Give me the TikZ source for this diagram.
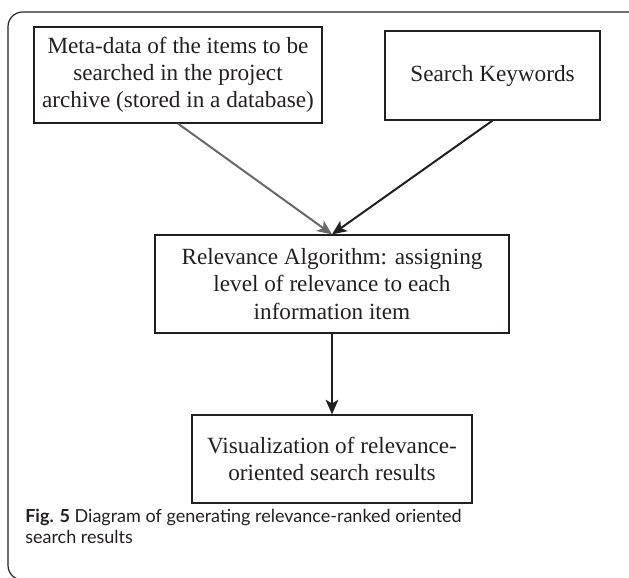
\documentclass[tikz,border=0pt]{standalone}
\usepackage{fontspec}
\setmainfont{Liberation Serif}
\newfontfamily\capfont{Lato}
\usepackage{tikz}
\usetikzlibrary{arrows.meta, positioning}
\definecolor{inkdark}{RGB}{35,31,32}
\definecolor{arrowgray}{RGB}{105,105,105}
\tikzset{block/.style={rectangle, draw=inkdark, line width=0.9pt, align=center, text=inkdark, font=\fontsize{17.4}{20.3}\selectfont, inner sep=2pt}}
\tikzset{next/.style={-{Stealth[length=11pt, width=9.5pt, inset=2.8pt]}, line width=1.5pt, draw=inkdark}}
\tikzset{frame/.style={draw=inkdark, line width=0.9pt, rounded corners=11pt}}

\begin{document}
\begin{tikzpicture}[x=0.75pt, y=-0.75pt]
  \useasboundingbox (0,0) rectangle (629,578);

  % --- outer frame ---
  \draw[frame] (660,12) -- (8,12) -- (8,580) -- (660,580);

  % --- inputs ---
  \node[block, minimum width=216pt, minimum height=72pt] (meta) at (178,75)
    {Meta-data of the items to be\\searched in the project\\archive (stored in a database)};
  \node[block, minimum width=161.25pt, minimum height=66.75pt] (keys) at (492.5,75.5)
    {Search Keywords};

  % --- algorithm and output ---
  \node[block, minimum width=265.5pt, minimum height=73.5pt] (algo) at (332,284)
    {Relevance Algorithm: assigning\\level of relevance to each\\information item};
  \node[block, minimum width=210pt, minimum height=66pt] (vis) at (332,459)
    {Visualization of relevance-\\oriented search results};

  \draw[next, draw=arrowgray, fill=arrowgray] (meta.south) -- (algo.north);
  \draw[next, fill=inkdark] (keys.south) -- (algo.north);
  \draw[next, fill=inkdark] (algo.south) -- (vis.north);

  % --- caption ---
  \node[anchor=base west, align=left, inner sep=0pt, text=inkdark,
        font=\capfont\fontsize{13.5}{15.75}\selectfont] (cap) at (25,543)
    {\textbf{Fig. 5} Diagram of generating relevance-ranked oriented\\search results};
\end{tikzpicture}
\end{document}
